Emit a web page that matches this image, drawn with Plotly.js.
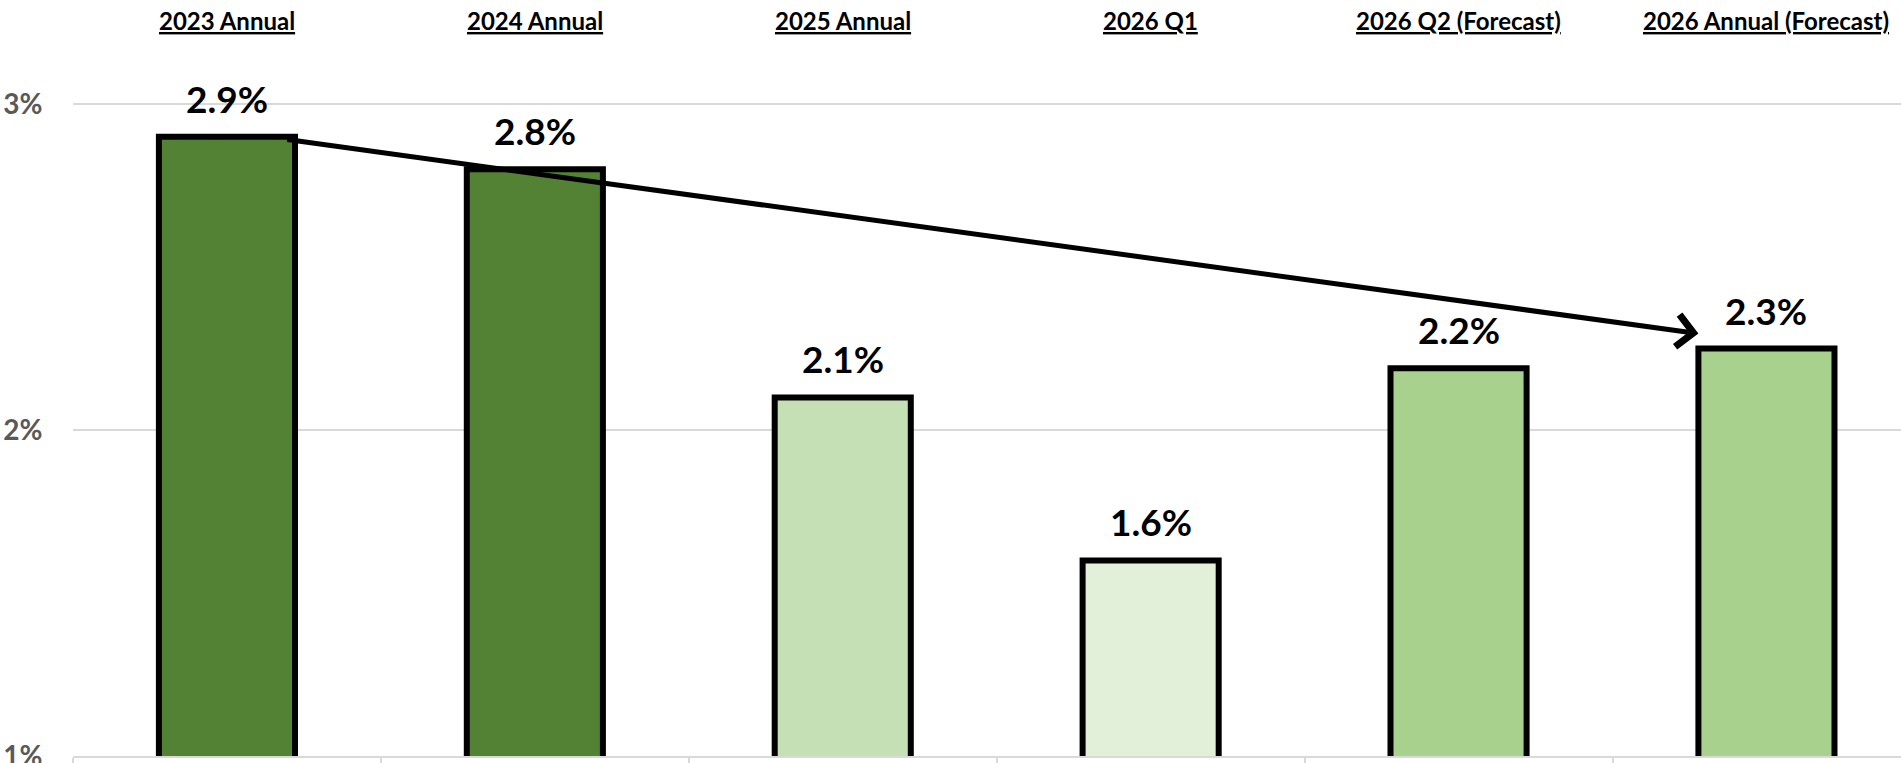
<!DOCTYPE html>
<html>
<head>
<meta charset="utf-8">
<script src="https://cdn.plot.ly/plotly-3.0.1.min.js"></script>
<style>
  html, body { margin: 0; padding: 0; background: #ffffff; overflow: hidden; }
  #chart { width: 1901px; height: 763px; }
</style>
</head>
<body>
<div id="chart"></div>
<script>
// ---- data ----
const categories = ["2023 Annual", "2024 Annual", "2025 Annual", "2026 Q1", "2026 Q2 (Forecast)", "2026 Annual (Forecast)"];
const values = [2.9, 2.8, 2.1, 1.6, 2.19, 2.25];
const valueLabels = ["2.9%", "2.8%", "2.1%", "1.6%", "2.2%", "2.3%"];
const yTickVals = [1, 2, 3];
const yTickText = ["1%", "2%", "3%"];

// ---- style ----
const barColors = ["#548235", "#548235", "#C5E0B4", "#E2F0D9", "#A9D18E", "#A9D18E"];
const FONT = "Lato, 'Open Sans', sans-serif";
const BAR_WIDTH = 0.442;

const trace = {
  type: "bar",
  x: categories,
  y: values,
  width: BAR_WIDTH,
  marker: { color: barColors, line: { color: "#000000", width: 6 } },
  hoverinfo: "skip"
};

const annotations = [];
// category headers at the top
categories.forEach(function (c) {
  annotations.push({
    x: c, xref: "x", y: 1 - 20 / 756, yref: "paper",
    yanchor: "middle", xanchor: "center",
    text: "<b><u>" + c + "</u></b>",
    showarrow: false,
    font: { family: FONT, size: 24, color: "#000000" }
  });
});
// value labels above bars
categories.forEach(function (c, i) {
  annotations.push({
    x: c, xref: "x", y: values[i], yref: "y",
    yanchor: "bottom", xanchor: "center", yshift: 14,
    text: "<b>" + valueLabels[i] + "</b>",
    showarrow: false,
    font: { family: FONT, size: 37, color: "#000000" }
  });
});
// trend arrow from first bar's top-right to just before last bar
const last = values.length - 1;
annotations.push({
  xref: "x", yref: "y", axref: "x", ayref: "y",
  ax: 0 + BAR_WIDTH / 2 - 0.03, ay: values[0] - 0.008,
  x: last - BAR_WIDTH / 2, y: values[last] + 0.046,
  text: "", showarrow: true,
  arrowhead: 4, arrowsize: 1.25, arrowwidth: 5, arrowcolor: "#000000",
  standoff: 0, startstandoff: 0
});

const layout = {
  width: 1901, height: 763,
  margin: { l: 73, r: 0, t: 0, b: 7, pad: 0 },
  paper_bgcolor: "#ffffff", plot_bgcolor: "#ffffff",
  showlegend: false,
  xaxis: {
    type: "category",
    categoryorder: "array", categoryarray: categories,
    range: [-0.5, 5.437],
    showticklabels: false,
    showgrid: false, zeroline: false,
    showline: true, linecolor: "#d9d9d9", linewidth: 2,
    ticks: "outside", tickson: "boundaries", ticklen: 12, tickwidth: 2, tickcolor: "#d9d9d9"
  },
  yaxis: {
    range: [1, 3.3195],
    tickvals: yTickVals, ticktext: yTickText.map(function (t) { return "<b>" + t + "</b>"; }),
    tickfont: { family: FONT, size: 28, color: "#595959" },
    ticklabeloverflow: "allow",
    ticks: "outside", ticklen: 24, tickcolor: "rgba(0,0,0,0)",
    showgrid: true, gridcolor: "#d9d9d9", gridwidth: 2,
    zeroline: false, showline: false, fixedrange: true
  },
  annotations: annotations
};

Plotly.newPlot("chart", [trace], layout, { displayModeBar: false, staticPlot: true });
</script>
</body>
</html>
